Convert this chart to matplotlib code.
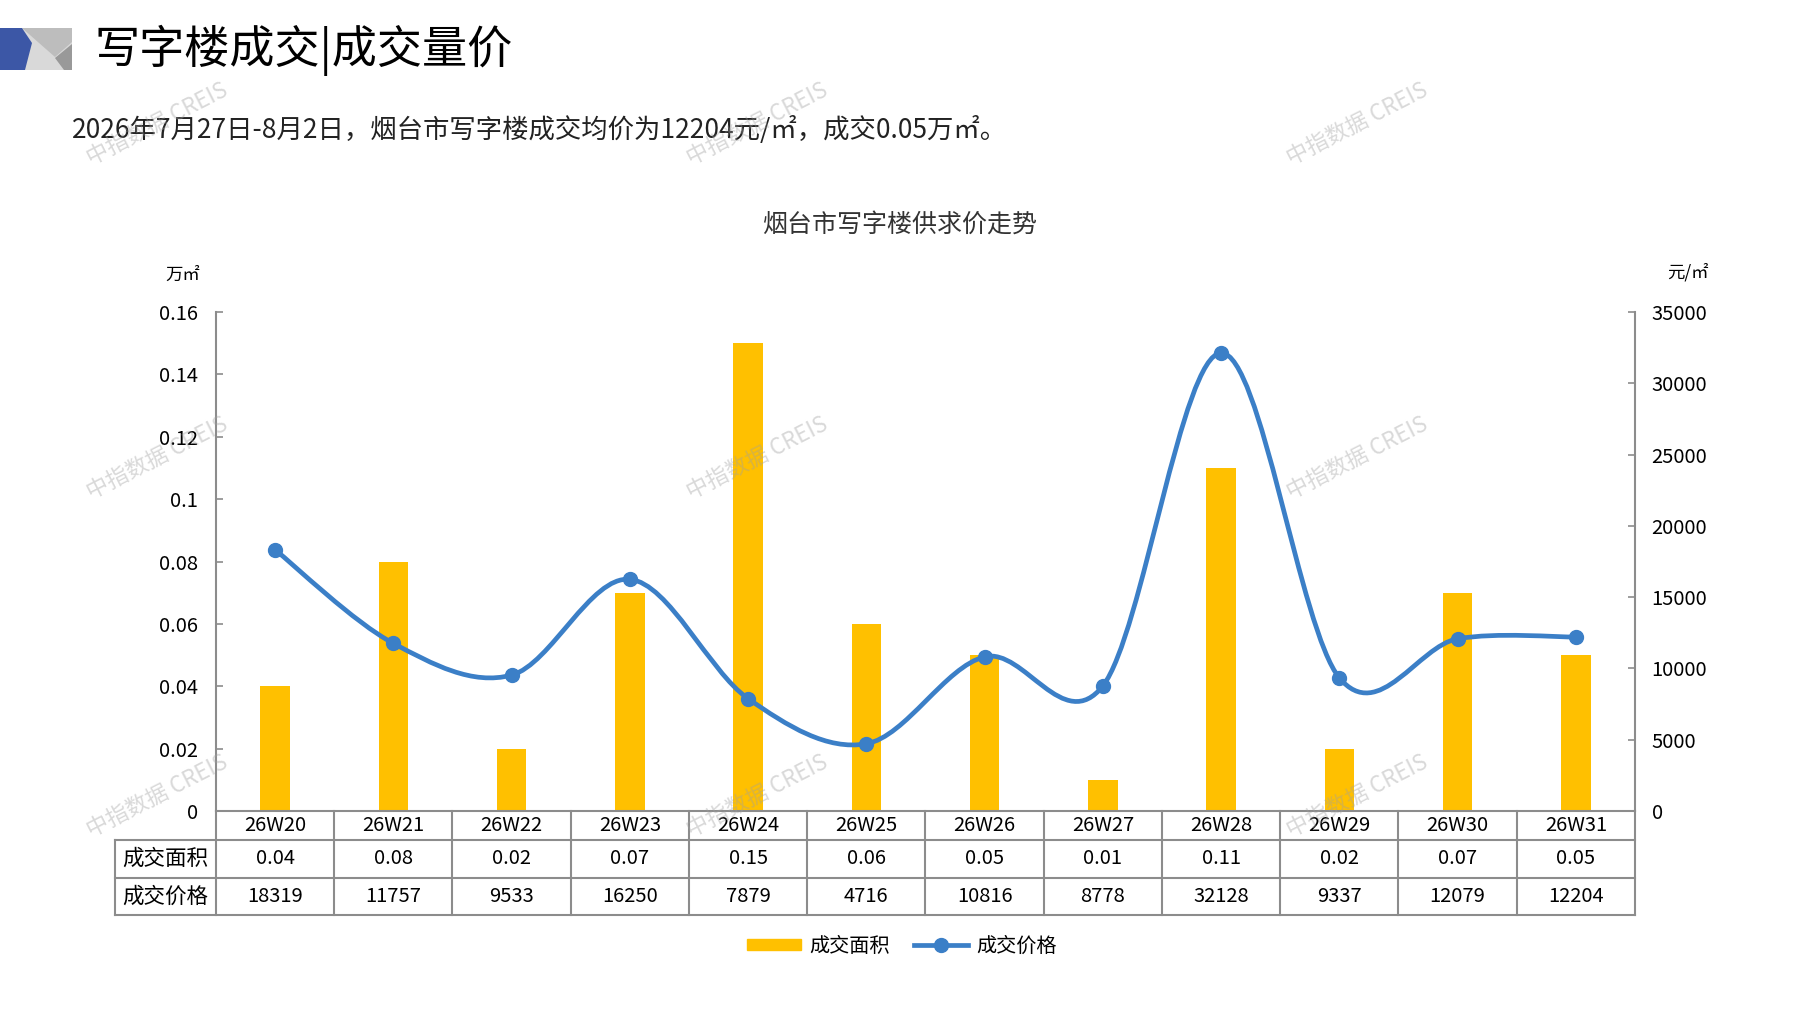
import matplotlib.pyplot as plt
import numpy as np
from matplotlib.path import Path
from matplotlib.patches import PathPatch, Polygon, Rectangle
from matplotlib.lines import Line2D
from matplotlib.ticker import FuncFormatter

plt.rcParams['font.family'] = ['Noto Sans CJK SC', 'DejaVu Sans']

# 数据
weeks = ['26W20', '26W21', '26W22', '26W23', '26W24', '26W25',
         '26W26', '26W27', '26W28', '26W29', '26W30', '26W31']
area = [0.04, 0.08, 0.02, 0.07, 0.15, 0.06, 0.05, 0.01, 0.11, 0.02, 0.07, 0.05]
price = [18319, 11757, 9533, 16250, 7879, 4716, 10816, 8778, 32128, 9337, 12079, 12204]
row_names = ['成交面积', '成交价格']

BAR = '#FFC000'
LINE = '#3B7FC7'
GRID = '#8c8c8c'

W, H = 1797, 1010
fig = plt.figure(figsize=(W / 100, H / 100), dpi=100)


def fx(px):
    return px / W


def fy(py):
    return 1 - py / H


# 标题栏图标
icon = [
    ([(20, 28), (72, 28), (72, 70), (20, 70)], '#d9d9d9'),
    ([(22, 28), (72, 28), (72, 42), (55, 57)], '#bdbdbd'),
    ([(72, 44), (72, 70), (64, 70), (55, 58)], '#999999'),
    ([(0, 28), (22, 28), (32, 43), (25, 70), (0, 70)], '#3c57a6'),
]
for pts, c in icon:
    fig.patches.append(Polygon([(fx(a), fy(b)) for a, b in pts], closed=True,
                               facecolor=c, edgecolor='none',
                               transform=fig.transFigure))

fig.text(fx(95), fy(50), '写字楼成交|成交量价', fontsize=32.5, va='center', ha='left')
fig.text(fx(72), fy(130),
         '2026年7月27日-8月2日，烟台市写字楼成交均价为12204元/㎡，成交0.05万㎡。',
         fontsize=19, va='center', ha='left', color='#222222')
fig.text(fx(900), fy(225), '烟台市写字楼供求价走势', fontsize=18, va='center',
         ha='center', color='#333333')
fig.text(fx(183), fy(275), '万㎡', fontsize=12.5, va='center', ha='center')
fig.text(fx(1688), fy(272), '元/㎡', fontsize=12.5, va='center', ha='center')

# 主图
L, R, T, B = 216, 1635, 312, 811
ax = fig.add_axes([fx(L), fy(B), (R - L) / W, (B - T) / H])
x = np.arange(len(weeks))
ax.bar(x, area, width=0.25, color=BAR, zorder=2)
ax.set_xlim(-0.5, len(weeks) - 0.5)
ax.set_ylim(0, 0.16)
ax.set_yticks(np.arange(0, 0.161, 0.02))
ax.yaxis.set_major_formatter(FuncFormatter(lambda v, _: f'{v:g}'))
ax.set_xticks([])
ax.tick_params(axis='y', direction='in', length=5, width=1.2, color=GRID,
               labelsize=14.5, pad=13)
for s in ['top', 'right']:
    ax.spines[s].set_visible(False)
for s in ['left', 'bottom']:
    ax.spines[s].set_color(GRID)
    ax.spines[s].set_linewidth(1.5)

ax2 = ax.twinx()
ax2.set_ylim(0, 35000)
ax2.set_yticks(np.arange(0, 35001, 5000))
ax2.tick_params(axis='y', direction='in', length=5, width=1.2, color=GRID,
                labelsize=14.5, pad=12)
for s in ['top', 'left', 'bottom']:
    ax2.spines[s].set_visible(False)
ax2.spines['right'].set_color(GRID)
ax2.spines['right'].set_linewidth(1.5)

# 平滑曲线（Catmull-Rom 贝塞尔）
pts = np.column_stack([x, price]).astype(float)
n = len(pts)
verts = [pts[0]]
codes = [Path.MOVETO]
for i in range(n - 1):
    p_prev = pts[max(i - 1, 0)]
    p0, p1 = pts[i], pts[i + 1]
    p_next = pts[min(i + 2, n - 1)]
    c1 = p0 + (p1 - p_prev) / 6
    c2 = p1 - (p_next - p0) / 6
    verts += [c1, c2, p1]
    codes += [Path.CURVE4] * 3
ax2.add_patch(PathPatch(Path(verts, codes), facecolor='none', edgecolor=LINE,
                        lw=3.4, capstyle='round', zorder=3))
ax2.plot(x, price, 'o', color=LINE, ms=10, zorder=4)

# 数据表
tr = ax.get_xaxis_transform()
ph = B - T
h1, h2, h3 = -29 / ph, -67 / ph, -104 / ph
xl = -0.5 - (L - 115) / ((R - L) / len(weeks))
lk = dict(color=GRID, lw=1.5, transform=tr, clip_on=False, zorder=1)
for yy in (h1, h2, h3):
    ax.add_line(Line2D([xl, len(weeks) - 0.5], [yy, yy], **lk))
for k in range(len(weeks) + 1):
    ax.add_line(Line2D([k - 0.5, k - 0.5], [0, h3], **lk))
ax.add_line(Line2D([xl, xl], [h1, h3], **lk))
for i, w in enumerate(weeks):
    ax.text(i, h1 / 2, w, transform=tr, ha='center', va='center', fontsize=14.5)
    ax.text(i, (h1 + h2) / 2, f'{area[i]:.2f}', transform=tr, ha='center',
            va='center', fontsize=14.5)
    ax.text(i, (h2 + h3) / 2, str(price[i]), transform=tr, ha='center',
            va='center', fontsize=14.5)
for r, name in enumerate(row_names):
    yc = (h1 + h2) / 2 if r == 0 else (h2 + h3) / 2
    ax.text((xl - 0.5) / 2, yc, name, transform=tr, ha='center', va='center',
            fontsize=15.5)

# 图例
handles = [Rectangle((0, 0), 1, 1, color=BAR),
           Line2D([], [], color=LINE, lw=3.4, marker='o', ms=10)]
fig.legend(handles, row_names, loc='center', bbox_to_anchor=(fx(902), fy(946)),
           ncol=2, frameon=False, fontsize=14.5, handlelength=2.7,
           handleheight=0.5, columnspacing=1.2, handletextpad=0.4)

# 水印
for wx in (157, 757, 1357):
    for wy in (124, 458, 796):
        fig.text(fx(wx), fy(wy), '中指数据 CREIS', fontsize=16, rotation=27,
                 ha='center', va='center', color='#a0a0a0', alpha=0.4,
                 zorder=10)

fig.savefig('out.png', dpi=100)
